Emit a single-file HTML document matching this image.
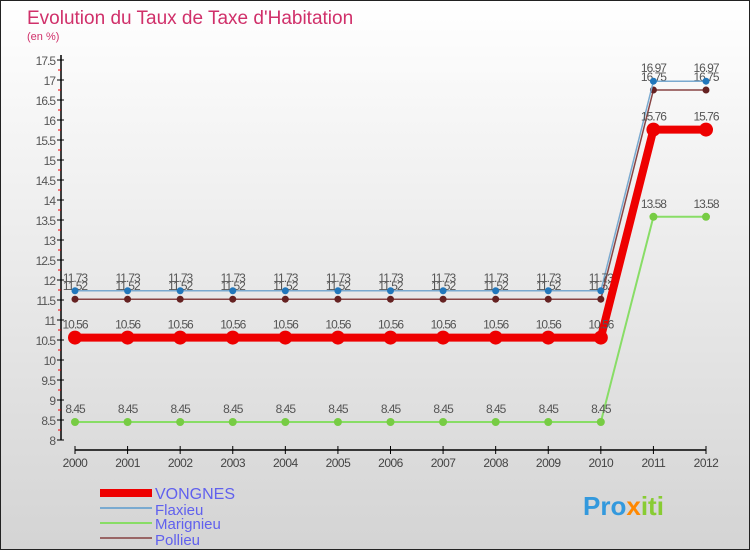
<!DOCTYPE html>
<html><head><meta charset="utf-8"><style>
body{margin:0;width:750px;height:550px;overflow:hidden;font-family:"Liberation Sans",sans-serif}
</style></head><body>
<svg width="750" height="550" xmlns="http://www.w3.org/2000/svg">
<defs><linearGradient id="bg" x1="0" y1="0" x2="0" y2="1"><stop offset="0" stop-color="#ffffff"/><stop offset="1" stop-color="#d4d4d4"/></linearGradient></defs>
<rect x="0.5" y="0.5" width="749" height="549" fill="url(#bg)" stroke="#222"/>
<text x="27" y="24" font-size="19" fill="#d0306a">Evolution du Taux de Taxe d'Habitation</text>
<text x="27" y="40" font-size="11" fill="#d0306a">(en %)</text>
<g id="axes"></g><g id="series"></g>
<g>
<rect x="100" y="489" width="52" height="8" fill="#ee0000"/>
<text x="155" y="499" font-size="16" fill="#6060ee">VONGNES</text>
<line x1="100" y1="508" x2="152" y2="508" stroke="#7aaad0" stroke-width="2"/>
<text x="155" y="515" font-size="15" fill="#6060ee">Flaxieu</text>
<line x1="100" y1="523" x2="152" y2="523" stroke="#88dd66" stroke-width="2"/>
<text x="155" y="529" font-size="15" fill="#6060ee">Marignieu</text>
<line x1="100" y1="538" x2="152" y2="538" stroke="#996666" stroke-width="2"/>
<text x="155" y="545" font-size="15" fill="#6060ee">Pollieu</text>
</g>
<text x="583" y="515" font-size="26" font-weight="bold"><tspan fill="#3399dd">Pro</tspan><tspan fill="#ff8800">x</tspan><tspan fill="#88cc33">iti</tspan></text>
</svg>
<script>
const years=[2000,2001,2002,2003,2004,2005,2006,2007,2008,2009,2010,2011,2012];
const vongnes=[10.56,10.56,10.56,10.56,10.56,10.56,10.56,10.56,10.56,10.56,10.56,15.76,15.76];
const flaxieu=[11.73,11.73,11.73,11.73,11.73,11.73,11.73,11.73,11.73,11.73,11.73,16.97,16.97];
const marignieu=[8.45,8.45,8.45,8.45,8.45,8.45,8.45,8.45,8.45,8.45,8.45,13.58,13.58];
const pollieu=[11.52,11.52,11.52,11.52,11.52,11.52,11.52,11.52,11.52,11.52,11.52,16.75,16.75];
const yTicks=[8,8.5,9,9.5,10,10.5,11,11.5,12,12.5,13,13.5,14,14.5,15,15.5,16,16.5,17,17.5];
const NS="http://www.w3.org/2000/svg";
const X=i=>75+i*(706-75)/(years.length-1);
const Y=v=>60+(17.5-v)*40;
function mk(t,a,p){const e=document.createElementNS(NS,t);for(const k in a)e.setAttribute(k,a[k]);p.appendChild(e);return e;}
const ax=document.getElementById('axes');
let e=mk('line',{x1:61,y1:55,x2:61,y2:440,stroke:'#000','stroke-width':1.5},ax);


yTicks.forEach((v,k)=>{
 mk('line',{x1:57,y1:Y(v),x2:64,y2:Y(v),stroke:'#000'},ax);
 if(k>0) mk('line',{x1:58,y1:Y(v)+10,x2:61,y2:Y(v)+10,stroke:'#e00'},ax);
 const t=mk('text',{x:55,y:Y(v)+5,'text-anchor':'end','font-size':12,fill:'#555','letter-spacing':'-1'},ax);t.textContent=v;
 
 
});
e=mk('line',{x1:75,y1:450,x2:706,y2:450,stroke:'#000','stroke-width':1.5},ax);


years.forEach((y,i)=>{
 mk('line',{x1:X(i),y1:446,x2:X(i),y2:454,stroke:'#000'},ax);
 const t=mk('text',{x:X(i),y:467,'text-anchor':'middle','font-size':12,fill:'#444','letter-spacing':'-0.5'},ax);t.textContent=y;
 
 
});
const sg=document.getElementById('series');
function series(name,data,color,w,r,dot){
 const g=mk('g',{},sg);
 
 
 mk('polyline',{points:data.map((v,i)=>X(i)+','+Y(v)).join(' '),fill:'none',stroke:color,'stroke-width':w},g);
 data.forEach((v,i)=>{
  const c=mk('circle',{cx:X(i),cy:Y(v),r:r,fill:dot},g);
  
  
  const t=mk('text',{x:X(i),y:Y(v)-9,'text-anchor':'middle','font-size':12,fill:'#555','letter-spacing':'-1'},g);t.textContent=v;
  
  
 });
}
series('marignieu',marignieu,'#88dd66',2,4,'#77cc44');
series('pollieu',pollieu,'#884444',1.5,3.5,'#662222');
series('flaxieu',flaxieu,'#7aaad0',1.5,3.5,'#2277bb');
series('vongnes',vongnes,'#ee0000',8,7,'#ee0000');
</script>
</body></html>
